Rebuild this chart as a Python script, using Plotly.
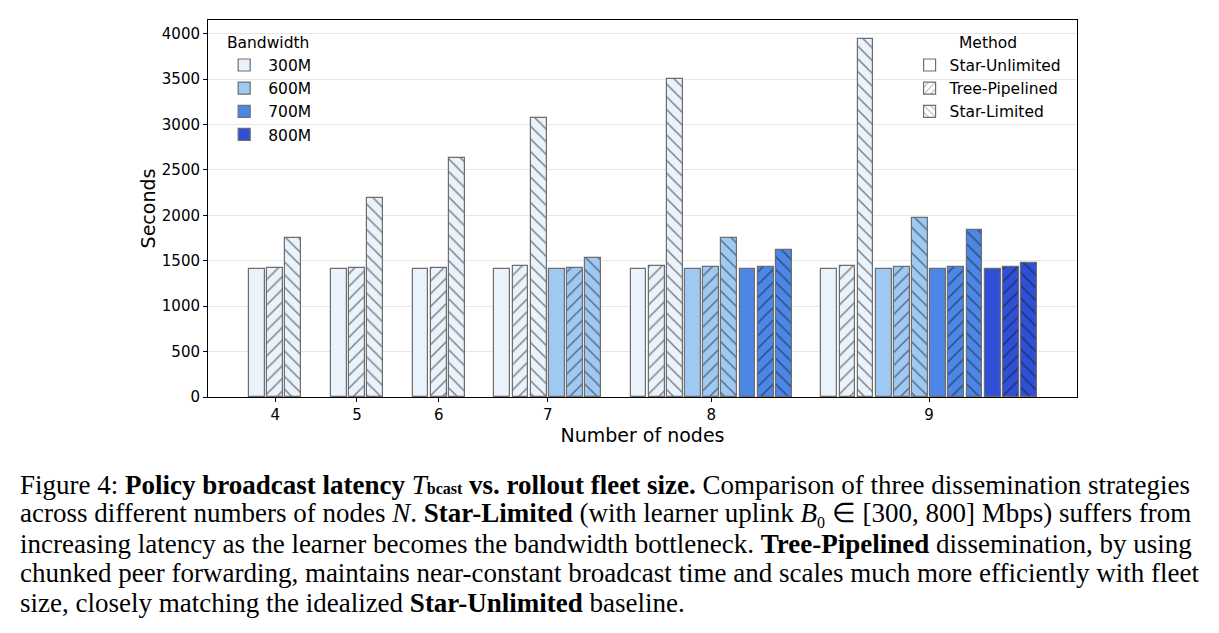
import plotly.graph_objects as go

# ---------------- data ----------------
nodes = [4, 5, 6, 7, 8, 9]
bandwidths = ["300M", "600M", "700M", "800M"]
methods = ["Star-Unlimited", "Tree-Pipelined", "Star-Limited"]

# values[bandwidth] -> per node (None = not run)
star_unlimited = {
    "300M": [1410, 1410, 1410, 1410, 1410, 1410],
    "600M": [None, None, None, 1410, 1410, 1410],
    "700M": [None, None, None, None, 1410, 1410],
    "800M": [None, None, None, None, None, 1410],
}
tree_pipelined = {
    "300M": [1425, 1425, 1425, 1440, 1440, 1440],
    "600M": [None, None, None, 1425, 1427, 1427],
    "700M": [None, None, None, None, 1427, 1427],
    "800M": [None, None, None, None, None, 1427],
}
star_limited = {
    "300M": [1750, 2190, 2630, 3070, 3500, 3945],
    "600M": [None, None, None, 1530, 1750, 1970],
    "700M": [None, None, None, None, 1615, 1835],
    "800M": [None, None, None, None, None, 1475],
}
series = {"Star-Unlimited": star_unlimited, "Tree-Pipelined": tree_pipelined,
          "Star-Limited": star_limited}

# ---------------- style ----------------
bw_colors = {"300M": "#EAF2FC", "600M": "#9FC9F3", "700M": "#4C86E6", "800M": "#2F4FD6"}
patterns = {"Star-Unlimited": "", "Tree-Pipelined": "/", "Star-Limited": "\\"}
EDGE = "#6e6e6e"
FONT = "DejaVu Sans"
BAR_W = 0.87
GROUP_GAP = 1.5

# positions: one slot per bar, gap between node groups
positions = {}
centers = []
pos = 0.0
for i, n in enumerate(nodes):
    start = pos
    for bw in bandwidths:
        if star_unlimited[bw][i] is None:
            continue
        for m in methods:
            positions[(n, bw, m)] = pos
            pos += 1
    centers.append((start + pos - 1) / 2)
    pos += GROUP_GAP
last = pos - GROUP_GAP - 1

fig = go.Figure()
for bw in bandwidths:
    for m in methods:
        xs, ys = [], []
        for i, n in enumerate(nodes):
            v = series[m][bw][i]
            if v is None:
                continue
            xs.append(positions[(n, bw, m)])
            ys.append(v)
        fig.add_trace(go.Bar(
            x=xs, y=ys, width=BAR_W, showlegend=False,
            marker=dict(color=bw_colors[bw], line=dict(color=EDGE, width=1.2),
                        pattern=dict(shape=patterns[m], fgcolor="#111111",
                                     size=9, solidity=0.17)),
            hovertemplate=f"{m} {bw}<br>%{{y}} s<extra></extra>"))

# legend entries (Bandwidth)
for bw in bandwidths:
    fig.add_trace(go.Bar(x=[None], y=[None], name=bw, legend="legend",
                         marker=dict(color=bw_colors[bw], line=dict(color=EDGE, width=1.2))))
# legend entries (Method)
for m in methods:
    fig.add_trace(go.Bar(x=[None], y=[None], name=m, legend="legend2",
                         marker=dict(color="white", line=dict(color=EDGE, width=1.2),
                                     pattern=dict(shape=patterns[m], fgcolor="#222222",
                                                  size=6, solidity=0.2))))

W, H = 1219, 633
ML, MR, MT, MB = 208, 142, 20, 236
plot_h = H - MT - MB

fig.update_layout(
    width=W, height=H, margin=dict(l=ML, r=MR, t=MT, b=MB, autoexpand=False),
    paper_bgcolor="white", plot_bgcolor="white",
    font=dict(family=FONT, size=15, color="black"),
    barmode="overlay", bargap=0,
    legend=dict(title=dict(text="Bandwidth", side="top center", font=dict(size=15.5)),
                x=0.014, y=0.978, xanchor="left", yanchor="top",
                bgcolor="rgba(0,0,0,0)", font=dict(size=15.5), itemwidth=38,
                tracegroupgap=0),
    legend2=dict(title=dict(text="Method", side="top center", font=dict(size=15.5)),
                 x=0.988, y=0.978, xanchor="right", yanchor="top",
                 bgcolor="rgba(0,0,0,0)", font=dict(size=15.5), itemwidth=30,
                 tracegroupgap=0),
    xaxis=dict(range=[-2.7, last + 2.64], tickmode="array", tickvals=centers,
               ticktext=[str(n) for n in nodes], showgrid=False, zeroline=False,
               showline=True, mirror=True, linecolor="black", linewidth=1,
               ticks="outside", ticklen=4, tickcolor="black",
               title=dict(text="Number of nodes", font=dict(size=19), standoff=2),
               tickfont=dict(size=15)),
    yaxis=dict(range=[0, 4150], tickmode="array", tickvals=list(range(0, 4001, 500)),
               showgrid=True, gridcolor="rgba(200,200,200,0.45)", gridwidth=1,
               zeroline=False, showline=True, mirror=True, linecolor="black",
               linewidth=1, ticks="outside", ticklen=4, tickcolor="black",
               layer="above traces",
               title=dict(text="Seconds", font=dict(size=19), standoff=1),
               tickfont=dict(size=15)),
)

# ---------------- caption ----------------
caption_lines = [
    "Figure 4: <b>Policy broadcast latency</b> <i>T</i><span style=\"font-size:16px\"><b>bcast</b></span> <b>vs. rollout fleet size.</b> Comparison of three dissemination strategies",
    "across different numbers of nodes <i>N</i>. <b>Star-Limited</b> (with learner uplink <i>B</i><sub><span style=\"font-size:16px\">0</span></sub> ∈ [300, 800] Mbps) suffers from",
    "increasing latency as the learner becomes the bandwidth bottleneck. <b>Tree-Pipelined</b> dissemination, by using",
    "chunked peer forwarding, maintains near-constant broadcast time and scales much more efficiently with fleet",
    "size, closely matching the idealized <b>Star-Unlimited</b> baseline.",
]
line_y = [485, 514, 544, 573, 603]
for txt, yp in zip(caption_lines, line_y):
    fig.add_annotation(text=txt, xref="paper", yref="paper",
                       x=(18 - ML) / (W - ML - MR), y=(H - MB - yp) / plot_h,
                       xanchor="left", yanchor="middle", showarrow=False,
                       font=dict(family="Liberation Serif", size=27, color="black"))

fig.write_html("out.html")
